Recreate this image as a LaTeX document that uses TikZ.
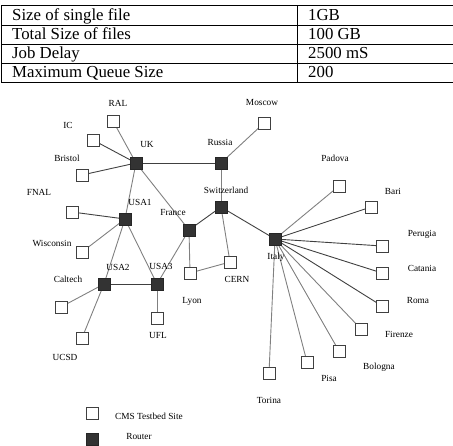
\documentclass[tikz,border=0pt]{standalone}
\usepackage{fontspec}
\setmainfont{Liberation Serif}
\usetikzlibrary{backgrounds}
\begin{document}
\begin{tikzpicture}[x=1pt,y=-1pt,
  site/.style={draw=black!75,fill=white,line width=0.8pt,minimum size=12pt,inner sep=0pt},
  router/.style={draw=black!85,fill=black!80,line width=0.6pt,minimum size=12pt,inner sep=0pt},
  lbl/.style={font=\fontsize{9.3}{10}\selectfont,inner sep=0pt},
  tbl/.style={font=\fontsize{16.8}{18}\selectfont,inner sep=0pt,anchor=base west},
  lk/.style={draw=black!50,line width=0.9pt},
  dk/.style={draw=black!75,line width=0.9pt}]
\useasboundingbox (0,0) rectangle (453,446);
% table
\draw[line width=1pt] (1,6) -- (453,6);
\draw[line width=0.8pt] (1,25) -- (453,25);
\draw[line width=0.8pt] (1,44) -- (453,44);
\draw[line width=0.8pt] (1,63) -- (453,63);
\draw[line width=1pt] (1,83) -- (453,83);
\draw[line width=0.8pt] (1,6) -- (1,83);
\draw[line width=0.8pt] (297,6) -- (297,83);
\node[tbl] (t1) at (12,20.5) {Size of single file};
\node[tbl] (t2) at (12,39.5) {Total Size of files};
\node[tbl] (t3) at (12,58.5) {Job Delay};
\node[tbl] (t4) at (12,78) {Maximum Queue Size};
\node[tbl] (v1) at (308,20.5) {1GB};
\node[tbl] (v2) at (308,39.5) {100 GB};
\node[tbl] (v3) at (308,58.5) {2500 mS};
\node[tbl] (v4) at (308,78) {200};
% routers
\node[router] (UK) at (136,163) {};
\node[router] (Russia) at (221,163) {};
\node[router] (USA1) at (125,219) {};
\node[router] (Switz) at (221,207) {};
\node[router] (France) at (189,230) {};
\node[router] (Italy) at (275,239) {};
\node[router] (USA2) at (104,284) {};
\node[router] (USA3) at (157,284) {};
% sites
\node[site] (RAL) at (113,121) {};
\node[site] (IC) at (93,140) {};
\node[site] (Bristol) at (82,175) {};
\node[site] (FNAL) at (72,212) {};
\node[site] (Wisc) at (82,252) {};
\node[site] (Caltech) at (61,307) {};
\node[site] (UCSD) at (82,338) {};
\node[site] (UFL) at (157,318) {};
\node[site] (Lyon) at (190,273) {};
\node[site] (CERN) at (230,262) {};
\node[site] (Moscow) at (264,123) {};
\node[site] (Padova) at (339,186) {};
\node[site] (Bari) at (371,207) {};
\node[site] (Perugia) at (382,246) {};
\node[site] (Catania) at (382,273) {};
\node[site] (Roma) at (382,306) {};
\node[site] (Firenze) at (361,329) {};
\node[site] (Bologna) at (339,351) {};
\node[site] (Pisa) at (307,362) {};
\node[site] (Torina) at (269,373) {};
% links
\begin{scope}[on background layer]
\draw[lk] (UK.center) -- (RAL.center);
\draw[dk] (UK.center) -- (IC.center);
\draw[dk] (UK.center) -- (Bristol.center);
\draw[dk] (UK.center) -- (Russia.center);
\draw[lk] (UK.center) -- (USA1.center);
\draw[lk] (UK.center) -- (France.center);
\draw[lk] (Russia.center) -- (Moscow.center);
\draw[lk] (Russia.center) -- (Switz.center);
\draw[dk] (Switz.center) -- (France.center);
\draw[dk] (Switz.center) -- (Italy.center);
\draw[lk] (Switz.center) -- (CERN.center);
\draw[lk] (France.center) -- (USA3.center);
\draw[lk] (France.center) -- (Lyon.center);
\draw[lk] (Lyon.center) -- (CERN.center);
\draw[dk] (USA1.center) -- (FNAL.center);
\draw[lk] (USA1.center) -- (Wisc.center);
\draw[lk] (USA1.center) -- (USA3.center);
\draw[lk] (USA1.center) -- (USA2.center);
\draw[lk] (USA2.center) -- (Caltech.center);
\draw[lk] (USA2.center) -- (UCSD.center);
\draw[dk] (USA2.center) -- (USA3.center);
\draw[lk] (USA3.center) -- (UFL.center);
\draw[lk] (Italy.center) -- (Padova.center);
\draw[dk] (Italy.center) -- (Bari.center);
\draw[dk] (Italy.center) -- (Perugia.center);
\draw[dk] (Italy.center) -- (Catania.center);
\draw[dk] (Italy.center) -- (Roma.center);
\draw[lk] (Italy.center) -- (Firenze.center);
\draw[lk] (Italy.center) -- (Bologna.center);
\draw[lk] (Italy.center) -- (Pisa.center);
\draw[lk] (Italy.center) -- (Torina.center);
\end{scope}
% labels
\node[lbl] (lRAL) at (118,103) {RAL};
\node[lbl] (lIC) at (68,125) {IC};
\node[lbl] (lBristol) at (67,158) {Bristol};
\node[lbl] (lUK) at (147,145) {UK};
\node[lbl] (lRussia) at (220,142) {Russia};
\node[lbl] (lMoscow) at (262,103) {Moscow};
\node[lbl] (lFNAL) at (39,192) {FNAL};
\node[lbl] (lUSA1) at (140,202) {USA1};
\node[lbl] (lSwitz) at (226,190) {Switzerland};
\node[lbl] (lFrance) at (173,213) {France};
\node[lbl] (lWisc) at (52,243) {Wisconsin};
\node[lbl] (lPadova) at (335,158) {Padova};
\node[lbl] (lBari) at (393,191) {Bari};
\node[lbl] (lItaly) at (276,257) {Italy};
\node[lbl] (lPerugia) at (422,234) {Perugia};
\node[lbl] (lCatania) at (422,268) {Catania};
\node[lbl] (lRoma) at (418,301) {Roma};
\node[lbl] (lFirenze) at (399,334) {Firenze};
\node[lbl] (lBologna) at (379,367) {Bologna};
\node[lbl] (lPisa) at (329,378) {Pisa};
\node[lbl] (lTorina) at (269,400) {Torina};
\node[lbl] (lCERN) at (237,279) {CERN};
\node[lbl] (lUSA2) at (118,267) {USA2};
\node[lbl] (lUSA3) at (161,266) {USA3};
\node[lbl] (lLyon) at (192,301) {Lyon};
\node[lbl] (lCaltech) at (68,279) {Caltech};
\node[lbl] (lUFL) at (158,336) {UFL};
\node[lbl] (lUCSD) at (65,357) {UCSD};
% legend
\node[site] (legS) at (92,413) {};
\node[router] (legR) at (92,439) {};
\node[lbl] (legSl) at (149,416) {CMS Testbed Site};
\node[lbl] (legRl) at (139,437) {Router};
\end{tikzpicture}
\end{document}
